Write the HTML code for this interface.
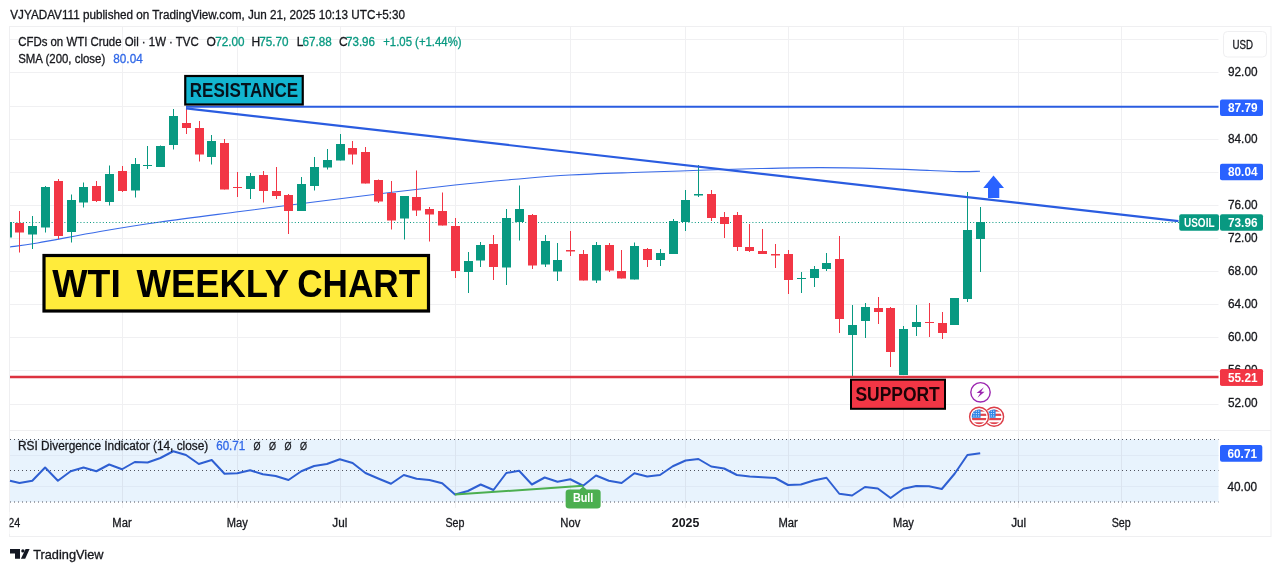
<!DOCTYPE html>
<html><head><meta charset="utf-8"><title>WTI Weekly Chart</title>
<style>
html,body{margin:0;padding:0;background:#fff;}
body{width:1281px;height:572px;overflow:hidden;font-family:'Liberation Sans', sans-serif;}
svg{display:block;font-family:'Liberation Sans', sans-serif;}
text{font-family:'Liberation Sans', sans-serif;}
</style></head><body>
<svg width="1281" height="572" viewBox="0 0 1281 572">
<rect x="0" y="0" width="1281" height="572" fill="#fff"/>
<line x1="10" y1="39.5" x2="1218.5" y2="39.5" stroke="#f0f0f2" stroke-width="1"/>
<line x1="10" y1="72.5" x2="1218.5" y2="72.5" stroke="#f0f0f2" stroke-width="1"/>
<line x1="10" y1="106.5" x2="1218.5" y2="106.5" stroke="#f0f0f2" stroke-width="1"/>
<line x1="10" y1="139.5" x2="1218.5" y2="139.5" stroke="#f0f0f2" stroke-width="1"/>
<line x1="10" y1="172.5" x2="1218.5" y2="172.5" stroke="#f0f0f2" stroke-width="1"/>
<line x1="10" y1="205.5" x2="1218.5" y2="205.5" stroke="#f0f0f2" stroke-width="1"/>
<line x1="10" y1="238.5" x2="1218.5" y2="238.5" stroke="#f0f0f2" stroke-width="1"/>
<line x1="10" y1="271.5" x2="1218.5" y2="271.5" stroke="#f0f0f2" stroke-width="1"/>
<line x1="10" y1="304.5" x2="1218.5" y2="304.5" stroke="#f0f0f2" stroke-width="1"/>
<line x1="10" y1="337.5" x2="1218.5" y2="337.5" stroke="#f0f0f2" stroke-width="1"/>
<line x1="10" y1="370.5" x2="1218.5" y2="370.5" stroke="#f0f0f2" stroke-width="1"/>
<line x1="10" y1="404.5" x2="1218.5" y2="404.5" stroke="#f0f0f2" stroke-width="1"/>
<line x1="122.5" y1="27" x2="122.5" y2="508" stroke="#f0f0f2" stroke-width="1"/>
<line x1="237.5" y1="27" x2="237.5" y2="508" stroke="#f0f0f2" stroke-width="1"/>
<line x1="340.5" y1="27" x2="340.5" y2="508" stroke="#f0f0f2" stroke-width="1"/>
<line x1="455.5" y1="27" x2="455.5" y2="508" stroke="#f0f0f2" stroke-width="1"/>
<line x1="570.5" y1="27" x2="570.5" y2="508" stroke="#f0f0f2" stroke-width="1"/>
<line x1="685.5" y1="27" x2="685.5" y2="508" stroke="#f0f0f2" stroke-width="1"/>
<line x1="788.5" y1="27" x2="788.5" y2="508" stroke="#f0f0f2" stroke-width="1"/>
<line x1="903.5" y1="27" x2="903.5" y2="508" stroke="#f0f0f2" stroke-width="1"/>
<line x1="1018.5" y1="27" x2="1018.5" y2="508" stroke="#f0f0f2" stroke-width="1"/>
<line x1="1121.5" y1="27" x2="1121.5" y2="508" stroke="#f0f0f2" stroke-width="1"/>
<rect x="10" y="439.5" width="1208.5" height="62.5" fill="#e8f3fd"/>
<line x1="10" y1="455.5" x2="1218.5" y2="455.5" stroke="#dfe9f5" stroke-width="1"/>
<line x1="10" y1="486.5" x2="1218.5" y2="486.5" stroke="#dfe9f5" stroke-width="1"/>
<line x1="122.5" y1="439.5" x2="122.5" y2="502" stroke="#dbe4ef" stroke-width="1"/>
<line x1="237.5" y1="439.5" x2="237.5" y2="502" stroke="#dbe4ef" stroke-width="1"/>
<line x1="340.5" y1="439.5" x2="340.5" y2="502" stroke="#dbe4ef" stroke-width="1"/>
<line x1="455.5" y1="439.5" x2="455.5" y2="502" stroke="#dbe4ef" stroke-width="1"/>
<line x1="570.5" y1="439.5" x2="570.5" y2="502" stroke="#dbe4ef" stroke-width="1"/>
<line x1="685.5" y1="439.5" x2="685.5" y2="502" stroke="#dbe4ef" stroke-width="1"/>
<line x1="788.5" y1="439.5" x2="788.5" y2="502" stroke="#dbe4ef" stroke-width="1"/>
<line x1="903.5" y1="439.5" x2="903.5" y2="502" stroke="#dbe4ef" stroke-width="1"/>
<line x1="1018.5" y1="439.5" x2="1018.5" y2="502" stroke="#dbe4ef" stroke-width="1"/>
<line x1="1121.5" y1="439.5" x2="1121.5" y2="502" stroke="#dbe4ef" stroke-width="1"/>
<line x1="10" y1="439.5" x2="1218.5" y2="439.5" stroke="#50535e" stroke-width="1" stroke-dasharray="1 3"/>
<line x1="10" y1="470.5" x2="1218.5" y2="470.5" stroke="#50535e" stroke-width="1" stroke-dasharray="1 3"/>
<line x1="10" y1="502" x2="1218.5" y2="502" stroke="#50535e" stroke-width="1" stroke-dasharray="1 3"/>
<line x1="10" y1="430.5" x2="1271" y2="430.5" stroke="#efeff1" stroke-width="1"/>
<rect x="9.5" y="26.5" width="1261.5" height="510" fill="none" stroke="#efeff1" stroke-width="1"/>
<path d="M10,247 C14.58,246.33 22.50,245.58 37.5,243 C52.50,240.42 79.58,235.00 100,231.5 C120.42,228.00 136.67,225.33 160,222 C183.33,218.67 213.33,214.96 240,211.5 C266.67,208.04 295.00,204.42 320,201.25 C345.00,198.08 367.50,195.21 390,192.5 C412.50,189.79 434.17,187.20 455,185 C475.83,182.80 495.83,180.97 515,179.3 C534.17,177.63 549.17,176.17 570,175 C590.83,173.83 618.33,173.08 640,172.3 C661.67,171.52 680.00,170.93 700,170.3 C720.00,169.67 740.00,168.95 760,168.5 C780.00,168.05 800.00,167.58 820,167.6 C840.00,167.62 861.67,168.12 880,168.6 C898.33,169.08 916.67,170.00 930,170.5 C943.33,171.00 951.67,171.47 960,171.6 C968.33,171.73 976.67,171.35 980,171.3" fill="none" stroke="#3a6be8" stroke-width="1.1"/>
<line x1="10" y1="222.5" x2="1179" y2="222.5" stroke="#089981" stroke-width="1" stroke-dasharray="1 2.2"/>
<rect x="10" y="222" width="2" height="15.5" fill="#089981"/>
<rect x="19" y="211.0" width="1" height="41.5" fill="#f23645"/>
<rect x="15" y="223.0" width="9" height="9.5" fill="#f23645"/>
<rect x="32" y="216.0" width="1" height="33.0" fill="#089981"/>
<rect x="28" y="226.0" width="9" height="8.5" fill="#089981"/>
<rect x="45" y="186.0" width="1" height="46.5" fill="#089981"/>
<rect x="41" y="187.0" width="9" height="40.5" fill="#089981"/>
<rect x="58" y="179.0" width="1" height="60.0" fill="#f23645"/>
<rect x="54" y="181.0" width="9" height="55.0" fill="#f23645"/>
<rect x="71" y="194.5" width="1" height="48.0" fill="#089981"/>
<rect x="67" y="200.0" width="9" height="32.0" fill="#089981"/>
<rect x="83" y="182.5" width="1" height="25.0" fill="#089981"/>
<rect x="79" y="187.0" width="9" height="15.5" fill="#089981"/>
<rect x="96" y="181.0" width="1" height="21.0" fill="#f23645"/>
<rect x="92" y="186.0" width="9" height="15.0" fill="#f23645"/>
<rect x="109" y="165.5" width="1" height="40.0" fill="#089981"/>
<rect x="105" y="174.0" width="9" height="28.0" fill="#089981"/>
<rect x="122" y="166.0" width="1" height="26.0" fill="#f23645"/>
<rect x="118" y="171.0" width="9" height="20.0" fill="#f23645"/>
<rect x="135" y="158.0" width="1" height="39.5" fill="#089981"/>
<rect x="131" y="164.0" width="9" height="26.5" fill="#089981"/>
<rect x="147" y="146.0" width="1" height="23.0" fill="#089981"/>
<rect x="143" y="165.0" width="9" height="1.0" fill="#089981"/>
<rect x="160" y="145.5" width="1" height="21.5" fill="#089981"/>
<rect x="156" y="146.0" width="9" height="21.0" fill="#089981"/>
<rect x="173" y="109.0" width="1" height="40.5" fill="#089981"/>
<rect x="169" y="116.0" width="9" height="29.0" fill="#089981"/>
<rect x="186" y="107.5" width="1" height="26.5" fill="#f23645"/>
<rect x="182" y="123.0" width="9" height="5.0" fill="#f23645"/>
<rect x="199" y="121.0" width="1" height="40.5" fill="#f23645"/>
<rect x="195" y="128.0" width="9" height="26.5" fill="#f23645"/>
<rect x="211" y="135.0" width="1" height="29.5" fill="#089981"/>
<rect x="207" y="141.0" width="9" height="16.0" fill="#089981"/>
<rect x="224" y="139.0" width="1" height="50.5" fill="#f23645"/>
<rect x="220" y="143.0" width="9" height="46.5" fill="#f23645"/>
<rect x="237" y="172.0" width="1" height="25.0" fill="#f23645"/>
<rect x="233" y="187.0" width="9" height="1.0" fill="#f23645"/>
<rect x="250" y="173.0" width="1" height="26.0" fill="#089981"/>
<rect x="246" y="176.0" width="9" height="13.0" fill="#089981"/>
<rect x="263" y="171.0" width="1" height="31.5" fill="#f23645"/>
<rect x="259" y="175.0" width="9" height="16.0" fill="#f23645"/>
<rect x="276" y="167.0" width="1" height="32.0" fill="#f23645"/>
<rect x="272" y="191.0" width="9" height="5.0" fill="#f23645"/>
<rect x="288" y="194.0" width="1" height="40.0" fill="#f23645"/>
<rect x="284" y="195.0" width="9" height="16.0" fill="#f23645"/>
<rect x="301" y="177.0" width="1" height="34.0" fill="#089981"/>
<rect x="297" y="184.0" width="9" height="27.0" fill="#089981"/>
<rect x="314" y="157.0" width="1" height="33.5" fill="#089981"/>
<rect x="310" y="167.0" width="9" height="19.0" fill="#089981"/>
<rect x="327" y="149.0" width="1" height="20.5" fill="#089981"/>
<rect x="323" y="160.0" width="9" height="7.5" fill="#089981"/>
<rect x="340" y="134.0" width="1" height="26.5" fill="#089981"/>
<rect x="336" y="144.0" width="9" height="16.5" fill="#089981"/>
<rect x="352" y="141.0" width="1" height="23.5" fill="#f23645"/>
<rect x="348" y="148.0" width="9" height="6.5" fill="#f23645"/>
<rect x="365" y="147.0" width="1" height="36.5" fill="#f23645"/>
<rect x="361" y="152.0" width="9" height="31.5" fill="#f23645"/>
<rect x="378" y="179.5" width="1" height="23.5" fill="#f23645"/>
<rect x="374" y="180.0" width="9" height="21.5" fill="#f23645"/>
<rect x="391" y="181.0" width="1" height="48.5" fill="#f23645"/>
<rect x="387" y="193.0" width="9" height="27.5" fill="#f23645"/>
<rect x="404" y="196.0" width="1" height="43.5" fill="#089981"/>
<rect x="400" y="196.0" width="9" height="22.5" fill="#089981"/>
<rect x="416" y="170.5" width="1" height="45.5" fill="#f23645"/>
<rect x="412" y="197.0" width="9" height="13.5" fill="#f23645"/>
<rect x="429" y="207.0" width="1" height="34.5" fill="#f23645"/>
<rect x="425" y="209.0" width="9" height="5.5" fill="#f23645"/>
<rect x="442" y="192.5" width="1" height="33.0" fill="#f23645"/>
<rect x="438" y="211.0" width="9" height="14.5" fill="#f23645"/>
<rect x="455" y="218.0" width="1" height="60.0" fill="#f23645"/>
<rect x="451" y="226.0" width="9" height="45.0" fill="#f23645"/>
<rect x="468" y="252.0" width="1" height="41.0" fill="#089981"/>
<rect x="464" y="261.0" width="9" height="11.0" fill="#089981"/>
<rect x="480" y="242.0" width="1" height="25.0" fill="#089981"/>
<rect x="476" y="245.0" width="9" height="15.5" fill="#089981"/>
<rect x="493" y="235.0" width="1" height="45.0" fill="#f23645"/>
<rect x="489" y="244.0" width="9" height="23.0" fill="#f23645"/>
<rect x="506" y="209.0" width="1" height="76.0" fill="#089981"/>
<rect x="502" y="218.0" width="9" height="49.5" fill="#089981"/>
<rect x="519" y="185.5" width="1" height="55.0" fill="#089981"/>
<rect x="515" y="209.0" width="9" height="13.0" fill="#089981"/>
<rect x="532" y="214.0" width="1" height="55.0" fill="#f23645"/>
<rect x="528" y="215.0" width="9" height="50.5" fill="#f23645"/>
<rect x="545" y="235.0" width="1" height="32.0" fill="#089981"/>
<rect x="541" y="241.0" width="9" height="23.5" fill="#089981"/>
<rect x="557" y="243.0" width="1" height="38.0" fill="#089981"/>
<rect x="553" y="260.0" width="9" height="11.5" fill="#089981"/>
<rect x="570" y="231.0" width="1" height="25.0" fill="#f23645"/>
<rect x="566" y="250.0" width="9" height="1.5" fill="#f23645"/>
<rect x="583" y="250.0" width="1" height="30.5" fill="#f23645"/>
<rect x="579" y="254.0" width="9" height="26.5" fill="#f23645"/>
<rect x="596" y="242.0" width="1" height="41.0" fill="#089981"/>
<rect x="592" y="245.0" width="9" height="35.5" fill="#089981"/>
<rect x="609" y="243.0" width="1" height="29.0" fill="#f23645"/>
<rect x="605" y="245.0" width="9" height="25.5" fill="#f23645"/>
<rect x="621" y="250.0" width="1" height="28.5" fill="#f23645"/>
<rect x="617" y="271.0" width="9" height="7.5" fill="#f23645"/>
<rect x="634" y="242.5" width="1" height="37.0" fill="#089981"/>
<rect x="630" y="246.0" width="9" height="33.5" fill="#089981"/>
<rect x="647" y="248.0" width="1" height="19.0" fill="#f23645"/>
<rect x="643" y="249.0" width="9" height="11.0" fill="#f23645"/>
<rect x="660" y="249.0" width="1" height="17.0" fill="#089981"/>
<rect x="656" y="253.0" width="9" height="7.0" fill="#089981"/>
<rect x="673" y="219.0" width="1" height="35.0" fill="#089981"/>
<rect x="669" y="221.0" width="9" height="33.0" fill="#089981"/>
<rect x="685" y="190.0" width="1" height="41.0" fill="#089981"/>
<rect x="681" y="200.0" width="9" height="22.0" fill="#089981"/>
<rect x="698" y="165.0" width="1" height="32.0" fill="#089981"/>
<rect x="694" y="194.0" width="9" height="1.5" fill="#089981"/>
<rect x="711" y="190.0" width="1" height="31.0" fill="#f23645"/>
<rect x="707" y="194.0" width="9" height="24.0" fill="#f23645"/>
<rect x="724" y="212.0" width="1" height="26.0" fill="#f23645"/>
<rect x="720" y="217.0" width="9" height="7.0" fill="#f23645"/>
<rect x="737" y="212.0" width="1" height="39.0" fill="#f23645"/>
<rect x="733" y="215.0" width="9" height="32.0" fill="#f23645"/>
<rect x="749" y="224.0" width="1" height="28.0" fill="#f23645"/>
<rect x="745" y="247.0" width="9" height="4.0" fill="#f23645"/>
<rect x="762" y="229.0" width="1" height="25.0" fill="#f23645"/>
<rect x="758" y="251.0" width="9" height="3.0" fill="#f23645"/>
<rect x="775" y="244.0" width="1" height="24.0" fill="#f23645"/>
<rect x="771" y="254.0" width="9" height="1.5" fill="#f23645"/>
<rect x="788" y="250.0" width="1" height="44.0" fill="#f23645"/>
<rect x="784" y="254.0" width="9" height="26.0" fill="#f23645"/>
<rect x="801" y="272.0" width="1" height="21.0" fill="#089981"/>
<rect x="797" y="278.0" width="9" height="1.0" fill="#089981"/>
<rect x="814" y="266.0" width="1" height="21.0" fill="#089981"/>
<rect x="810" y="269.0" width="9" height="9.0" fill="#089981"/>
<rect x="826" y="253.0" width="1" height="18.0" fill="#089981"/>
<rect x="822" y="263.0" width="9" height="6.0" fill="#089981"/>
<rect x="839" y="236.0" width="1" height="97.0" fill="#f23645"/>
<rect x="835" y="259.0" width="9" height="60.0" fill="#f23645"/>
<rect x="852" y="305.0" width="1" height="71.0" fill="#089981"/>
<rect x="848" y="325.0" width="9" height="10.0" fill="#089981"/>
<rect x="865" y="303.0" width="1" height="35.0" fill="#089981"/>
<rect x="861" y="307.0" width="9" height="14.0" fill="#089981"/>
<rect x="878" y="297.0" width="1" height="27.0" fill="#f23645"/>
<rect x="874" y="308.0" width="9" height="4.0" fill="#f23645"/>
<rect x="890" y="307.0" width="1" height="60.0" fill="#f23645"/>
<rect x="886" y="308.0" width="9" height="44.0" fill="#f23645"/>
<rect x="903" y="326.0" width="1" height="49.0" fill="#089981"/>
<rect x="899" y="329.0" width="9" height="46.0" fill="#089981"/>
<rect x="916" y="305.0" width="1" height="31.0" fill="#089981"/>
<rect x="912" y="322.0" width="9" height="5.0" fill="#089981"/>
<rect x="929" y="303.0" width="1" height="34.0" fill="#f23645"/>
<rect x="925" y="322.0" width="9" height="1.0" fill="#f23645"/>
<rect x="942" y="312.0" width="1" height="27.0" fill="#f23645"/>
<rect x="938" y="323.0" width="9" height="10.0" fill="#f23645"/>
<rect x="954" y="298.0" width="1" height="27.0" fill="#089981"/>
<rect x="950" y="298.0" width="9" height="27.0" fill="#089981"/>
<rect x="967" y="192.0" width="1" height="110.0" fill="#089981"/>
<rect x="963" y="230.0" width="9" height="69.0" fill="#089981"/>
<rect x="980" y="207.0" width="1" height="65.0" fill="#089981"/>
<rect x="976" y="222.0" width="9" height="17.0" fill="#089981"/>
<line x1="186" y1="106.8" x2="1218.5" y2="106.8" stroke="#2a5ce0" stroke-width="2"/>
<line x1="186" y1="108.4" x2="1178.5" y2="221.2" stroke="#2a5ce0" stroke-width="2.2"/>
<line x1="10" y1="377" x2="1218.5" y2="377" stroke="#dc3340" stroke-width="2.4"/>
<path d="M993.5,175.5 L1004,188 L999.3,188 L999.3,198 L988,198 L988,188 L983.2,188 Z" fill="#2962ff"/>
<polyline points="10,480.75 19.5,483 32.3,480.75 45.1,467.5 57.9,480.75 70.7,471.25 83.5,467.5 96.4,471.25 109.2,464.5 122.0,469.25 134.8,462 147.6,462.5 160.4,458 173.2,451.25 186.0,455 198.8,464 211.7,460 224.5,473.75 237.3,473.25 250.1,470.25 262.9,474.25 275.7,476 288.5,480 301.3,471.25 314.1,466 326.9,464 339.8,459.25 352.6,463 365.4,473 378.2,478.5 391.0,483.75 403.8,475 416.6,478.75 429.4,480 442.2,483.25 455.0,494.5 467.9,491 480.7,484.5 493.5,490 506.3,473 519.1,470.75 531.9,484.5 544.7,477.5 557.5,481.75 570.3,479.25 583.1,485.75 596.0,475.5 608.8,480.75 621.6,483 634.4,473.25 647.2,476.5 660.0,475 672.8,466.25 685.6,460.5 698.4,459 711.2,466.5 724.1,468.5 736.9,475 749.7,476.5 762.5,477.25 775.3,478 788.1,485 800.9,484.5 813.7,480.5 826.5,477.75 839.3,493.75 852.1,495.5 865.0,487 877.8,488.5 890.6,498 903.4,488.75 916.2,486 929.0,486.25 941.8,489 954.6,473.75 967.4,455 980.2,453.25" fill="none" stroke="#2e5fd2" stroke-width="2" stroke-linejoin="round"/>
<line x1="455.0" y1="494.5" x2="583.1" y2="485.75" stroke="#4caf50" stroke-width="2"/>
<path d="M583.14,486.5 L586.64,489.5 L597.14,489.5 Q600.64,489.5 600.64,492.5 L600.64,505.5 Q600.64,508.5 597.14,508.5 L569.14,508.5 Q565.64,508.5 565.64,505.5 L565.64,492.5 Q565.64,489.5 569.14,489.5 L579.64,489.5 Z" fill="#4caf50"/>
<rect x="185.25" y="76" width="117.5" height="28.5" fill="#12b5d0" stroke="#000" stroke-width="2.2"/>
<rect x="44" y="255.5" width="384.5" height="55.5" fill="#ffeb3b" stroke="#000" stroke-width="3.2"/>
<rect x="851" y="379.7" width="94" height="29.1" fill="#f23645" stroke="#000" stroke-width="2"/>
<rect x="1220" y="99.5" width="43" height="16.5" rx="2" fill="#2962ff"/>
<rect x="1220" y="163.7" width="43" height="16.5" rx="2" fill="#2962ff"/>
<rect x="1220" y="214.2" width="43" height="16.5" rx="2" fill="#089981"/>
<rect x="1179.2" y="214.2" width="39.8" height="16.5" rx="2" fill="#089981"/>
<rect x="1220" y="369.2" width="43" height="16.5" rx="2" fill="#f23645"/>
<rect x="1220" y="445" width="42.3" height="16.7" rx="2" fill="#2962ff"/>
<rect x="1223.5" y="31.5" width="43" height="25.5" rx="4" fill="#fff" stroke="#efeff1" stroke-width="1"/>
<circle cx="980.5" cy="392.3" r="9.7" fill="#fff" stroke="#9c27b0" stroke-width="1.4"/>
<path d="M983.9,387.2 L976.6,392.9 L980.3,392.9 L977.5,397.8 L984.6,391.7 L981.1,391.7 Z" fill="#9c27b0"/>
<circle cx="994.1" cy="416.8" r="10.6" fill="#fff"/>
<circle cx="994.1" cy="416.8" r="9.5" fill="#fff" stroke="#dc3c46" stroke-width="1.4"/>
<clipPath id="f2"><circle cx="994.1" cy="416.8" r="7.4"/></clipPath>
<g clip-path="url(#f2)">
<rect x="986.1" y="408.8" width="16" height="16" fill="#fff"/>
<rect x="986.1" y="409.40" width="16" height="2.2" fill="#e0454f"/>
<rect x="986.1" y="413.70" width="16" height="2.2" fill="#e0454f"/>
<rect x="986.1" y="418.00" width="16" height="2.2" fill="#e0454f"/>
<rect x="986.1" y="422.30" width="16" height="2.2" fill="#e0454f"/>
<rect x="986.1" y="408.8" width="9.5" height="9" fill="#2f86e8"/>
<rect x="988.40" y="410.70" width="1" height="1" fill="#fff"/>
<rect x="990.80" y="410.70" width="1" height="1" fill="#fff"/>
<rect x="993.20" y="410.70" width="1" height="1" fill="#fff"/>
<rect x="988.40" y="413.10" width="1" height="1" fill="#fff"/>
<rect x="990.80" y="413.10" width="1" height="1" fill="#fff"/>
<rect x="993.20" y="413.10" width="1" height="1" fill="#fff"/>
<rect x="988.40" y="415.50" width="1" height="1" fill="#fff"/>
<rect x="990.80" y="415.50" width="1" height="1" fill="#fff"/>
<rect x="993.20" y="415.50" width="1" height="1" fill="#fff"/>
</g>
<circle cx="979.1" cy="416.8" r="10.6" fill="#fff"/>
<circle cx="979.1" cy="416.8" r="9.5" fill="#fff" stroke="#dc3c46" stroke-width="1.4"/>
<clipPath id="f1"><circle cx="979.1" cy="416.8" r="7.4"/></clipPath>
<g clip-path="url(#f1)">
<rect x="971.1" y="408.8" width="16" height="16" fill="#fff"/>
<rect x="971.1" y="409.40" width="16" height="2.2" fill="#e0454f"/>
<rect x="971.1" y="413.70" width="16" height="2.2" fill="#e0454f"/>
<rect x="971.1" y="418.00" width="16" height="2.2" fill="#e0454f"/>
<rect x="971.1" y="422.30" width="16" height="2.2" fill="#e0454f"/>
<rect x="971.1" y="408.8" width="9.5" height="9" fill="#2f86e8"/>
<rect x="973.40" y="410.70" width="1" height="1" fill="#fff"/>
<rect x="975.80" y="410.70" width="1" height="1" fill="#fff"/>
<rect x="978.20" y="410.70" width="1" height="1" fill="#fff"/>
<rect x="973.40" y="413.10" width="1" height="1" fill="#fff"/>
<rect x="975.80" y="413.10" width="1" height="1" fill="#fff"/>
<rect x="978.20" y="413.10" width="1" height="1" fill="#fff"/>
<rect x="973.40" y="415.50" width="1" height="1" fill="#fff"/>
<rect x="975.80" y="415.50" width="1" height="1" fill="#fff"/>
<rect x="978.20" y="415.50" width="1" height="1" fill="#fff"/>
</g>
<path d="M10,549 H20 V558.8 H15 V553.6 H10 Z" fill="#131722"/>
<circle cx="22.9" cy="550.9" r="1.7" fill="#131722"/>
<path d="M25.6,549 H29.6 L25.2,558.8 H20.9 Z" fill="#131722"/>
<text x="10.3" y="18.7" font-size="12" fill="#17181d" font-weight="normal" text-anchor="start" stroke="#17181d" stroke-width="0.3" textLength="394.7" lengthAdjust="spacingAndGlyphs" >VJYADAV111 published on TradingView.com, Jun 21, 2025 10:13 UTC+5:30</text>
<text x="18.2" y="45.9" font-size="12" fill="#17181d" font-weight="normal" text-anchor="start" stroke="#17181d" stroke-width="0.3" textLength="180.5" lengthAdjust="spacingAndGlyphs" >CFDs on WTI Crude Oil · 1W · TVC</text>
<text x="206.5" y="45.9" font-size="12" fill="#17181d" font-weight="normal" text-anchor="start" stroke="#17181d" stroke-width="0.3" >O</text>
<text x="215.3" y="45.9" font-size="12" fill="#089981" font-weight="normal" text-anchor="start" stroke="#089981" stroke-width="0.3" textLength="29.2" lengthAdjust="spacingAndGlyphs" >72.00</text>
<text x="251.4" y="45.9" font-size="12" fill="#17181d" font-weight="normal" text-anchor="start" stroke="#17181d" stroke-width="0.3" >H</text>
<text x="259.3" y="45.9" font-size="12" fill="#089981" font-weight="normal" text-anchor="start" stroke="#089981" stroke-width="0.3" textLength="29.2" lengthAdjust="spacingAndGlyphs" >75.70</text>
<text x="296.8" y="45.9" font-size="12" fill="#17181d" font-weight="normal" text-anchor="start" stroke="#17181d" stroke-width="0.3" >L</text>
<text x="302.5" y="45.9" font-size="12" fill="#089981" font-weight="normal" text-anchor="start" stroke="#089981" stroke-width="0.3" textLength="29.2" lengthAdjust="spacingAndGlyphs" >67.88</text>
<text x="339" y="45.9" font-size="12" fill="#17181d" font-weight="normal" text-anchor="start" stroke="#17181d" stroke-width="0.3" >C</text>
<text x="346" y="45.9" font-size="12" fill="#089981" font-weight="normal" text-anchor="start" stroke="#089981" stroke-width="0.3" textLength="29" lengthAdjust="spacingAndGlyphs" >73.96</text>
<text x="383.2" y="45.9" font-size="12" fill="#089981" font-weight="normal" text-anchor="start" stroke="#089981" stroke-width="0.3" textLength="78.4" lengthAdjust="spacingAndGlyphs" >+1.05 (+1.44%)</text>
<text x="18.2" y="62.8" font-size="12" fill="#17181d" font-weight="normal" text-anchor="start" stroke="#17181d" stroke-width="0.3" textLength="87" lengthAdjust="spacingAndGlyphs" >SMA (200, close)</text>
<text x="113.3" y="62.8" font-size="12" fill="#3068e8" font-weight="normal" text-anchor="start" stroke="#3068e8" stroke-width="0.3" textLength="29.4" lengthAdjust="spacingAndGlyphs" >80.04</text>
<text x="18" y="450.2" font-size="12" fill="#17181d" font-weight="normal" text-anchor="start" stroke="#17181d" stroke-width="0.3" textLength="190.3" lengthAdjust="spacingAndGlyphs" >RSI Divergence Indicator (14, close)</text>
<text x="216.2" y="450.2" font-size="12" fill="#3068e8" font-weight="normal" text-anchor="start" stroke="#3068e8" stroke-width="0.3" textLength="29" lengthAdjust="spacingAndGlyphs" >60.71</text>
<text x="253.4" y="450.2" font-size="11.5" fill="#17181d" font-weight="normal" text-anchor="start" stroke="#17181d" stroke-width="0.3" textLength="7" lengthAdjust="spacingAndGlyphs" >Ø</text>
<text x="269.1" y="450.2" font-size="11.5" fill="#17181d" font-weight="normal" text-anchor="start" stroke="#17181d" stroke-width="0.3" textLength="7" lengthAdjust="spacingAndGlyphs" >Ø</text>
<text x="284.6" y="450.2" font-size="11.5" fill="#17181d" font-weight="normal" text-anchor="start" stroke="#17181d" stroke-width="0.3" textLength="7" lengthAdjust="spacingAndGlyphs" >Ø</text>
<text x="299.9" y="450.2" font-size="11.5" fill="#17181d" font-weight="normal" text-anchor="start" stroke="#17181d" stroke-width="0.3" textLength="7" lengthAdjust="spacingAndGlyphs" >Ø</text>
<text x="1228" y="76.4" font-size="12" fill="#17181d" font-weight="normal" text-anchor="start" stroke="#17181d" stroke-width="0.3" textLength="29.5" lengthAdjust="spacingAndGlyphs" >92.00</text>
<text x="1228" y="142.6" font-size="12" fill="#17181d" font-weight="normal" text-anchor="start" stroke="#17181d" stroke-width="0.3" textLength="29.5" lengthAdjust="spacingAndGlyphs" >84.00</text>
<text x="1228" y="208.8" font-size="12" fill="#17181d" font-weight="normal" text-anchor="start" stroke="#17181d" stroke-width="0.3" textLength="29.5" lengthAdjust="spacingAndGlyphs" >76.00</text>
<text x="1228" y="241.9" font-size="12" fill="#17181d" font-weight="normal" text-anchor="start" stroke="#17181d" stroke-width="0.3" textLength="29.5" lengthAdjust="spacingAndGlyphs" >72.00</text>
<text x="1228" y="275.0" font-size="12" fill="#17181d" font-weight="normal" text-anchor="start" stroke="#17181d" stroke-width="0.3" textLength="29.5" lengthAdjust="spacingAndGlyphs" >68.00</text>
<text x="1228" y="308.1" font-size="12" fill="#17181d" font-weight="normal" text-anchor="start" stroke="#17181d" stroke-width="0.3" textLength="29.5" lengthAdjust="spacingAndGlyphs" >64.00</text>
<text x="1228" y="341.2" font-size="12" fill="#17181d" font-weight="normal" text-anchor="start" stroke="#17181d" stroke-width="0.3" textLength="29.5" lengthAdjust="spacingAndGlyphs" >60.00</text>
<text x="1228" y="374.3" font-size="12" fill="#17181d" font-weight="normal" text-anchor="start" stroke="#17181d" stroke-width="0.3" textLength="29.5" lengthAdjust="spacingAndGlyphs" >56.00</text>
<text x="1228" y="407.4" font-size="12" fill="#17181d" font-weight="normal" text-anchor="start" stroke="#17181d" stroke-width="0.3" textLength="29.5" lengthAdjust="spacingAndGlyphs" >52.00</text>
<rect x="1220" y="369.2" width="43" height="16.5" rx="2" fill="#f23645"/>
<text x="1228" y="111.9" font-size="12" fill="#fff" font-weight="bold" text-anchor="start" textLength="29.5" lengthAdjust="spacingAndGlyphs" >87.79</text>
<text x="1228" y="176.1" font-size="12" fill="#fff" font-weight="bold" text-anchor="start" textLength="29.5" lengthAdjust="spacingAndGlyphs" >80.04</text>
<text x="1228" y="226.6" font-size="12" fill="#fff" font-weight="bold" text-anchor="start" textLength="29.5" lengthAdjust="spacingAndGlyphs" >73.96</text>
<text x="1184" y="226.6" font-size="12" fill="#fff" font-weight="bold" text-anchor="start" textLength="30.5" lengthAdjust="spacingAndGlyphs" >USOIL</text>
<text x="1228" y="381.6" font-size="12" fill="#fff" font-weight="bold" text-anchor="start" textLength="29.5" lengthAdjust="spacingAndGlyphs" >55.21</text>
<text x="1227.5" y="457.6" font-size="12" fill="#fff" font-weight="bold" text-anchor="start" textLength="29.5" lengthAdjust="spacingAndGlyphs" >60.71</text>
<text x="1227.5" y="491" font-size="12" fill="#17181d" font-weight="normal" text-anchor="start" stroke="#17181d" stroke-width="0.3" textLength="29.5" lengthAdjust="spacingAndGlyphs" >40.00</text>
<text x="1242.7" y="48.6" font-size="12" fill="#17181d" font-weight="normal" text-anchor="middle" stroke="#17181d" stroke-width="0.3" textLength="20.5" lengthAdjust="spacingAndGlyphs" >USD</text>
<text x="122.0" y="527" font-size="12" fill="#17181d" font-weight="normal" text-anchor="middle" stroke="#17181d" stroke-width="0.3" textLength="19.3" lengthAdjust="spacingAndGlyphs" >Mar</text>
<text x="237.3" y="527" font-size="12" fill="#17181d" font-weight="normal" text-anchor="middle" stroke="#17181d" stroke-width="0.3" textLength="21" lengthAdjust="spacingAndGlyphs" >May</text>
<text x="339.8" y="527" font-size="12" fill="#17181d" font-weight="normal" text-anchor="middle" stroke="#17181d" stroke-width="0.3" textLength="15" lengthAdjust="spacingAndGlyphs" >Jul</text>
<text x="455.0" y="527" font-size="12" fill="#17181d" font-weight="normal" text-anchor="middle" stroke="#17181d" stroke-width="0.3" textLength="19" lengthAdjust="spacingAndGlyphs" >Sep</text>
<text x="570.3" y="527" font-size="12" fill="#17181d" font-weight="normal" text-anchor="middle" stroke="#17181d" stroke-width="0.3" textLength="20" lengthAdjust="spacingAndGlyphs" >Nov</text>
<text x="788.1" y="527" font-size="12" fill="#17181d" font-weight="normal" text-anchor="middle" stroke="#17181d" stroke-width="0.3" textLength="19.3" lengthAdjust="spacingAndGlyphs" >Mar</text>
<text x="903.4" y="527" font-size="12" fill="#17181d" font-weight="normal" text-anchor="middle" stroke="#17181d" stroke-width="0.3" textLength="21" lengthAdjust="spacingAndGlyphs" >May</text>
<text x="1018.7" y="527" font-size="12" fill="#17181d" font-weight="normal" text-anchor="middle" stroke="#17181d" stroke-width="0.3" textLength="15" lengthAdjust="spacingAndGlyphs" >Jul</text>
<text x="1121.2" y="527" font-size="12" fill="#17181d" font-weight="normal" text-anchor="middle" stroke="#17181d" stroke-width="0.3" textLength="19" lengthAdjust="spacingAndGlyphs" >Sep</text>
<text x="685.6" y="527" font-size="12" fill="#17181d" font-weight="bold" text-anchor="middle" textLength="27.5" lengthAdjust="spacingAndGlyphs" >2025</text>
<text x="8.2" y="527" font-size="12" fill="#17181d" font-weight="normal" text-anchor="start" stroke="#17181d" stroke-width="0.3" textLength="12" lengthAdjust="spacingAndGlyphs" >24</text>
<rect x="0" y="512" width="9.5" height="22" fill="#fff"/>
<text x="189.8" y="97" font-size="19.8" fill="#06121c" font-weight="bold" text-anchor="start" textLength="108.3" lengthAdjust="spacingAndGlyphs" >RESISTANCE</text>
<text x="52.3" y="296.6" font-size="39.5" fill="#000" font-weight="bold" text-anchor="start" textLength="68.5" lengthAdjust="spacingAndGlyphs" >WTI</text>
<text x="136.5" y="296.6" font-size="39.5" fill="#000" font-weight="bold" text-anchor="start" textLength="152.5" lengthAdjust="spacingAndGlyphs" >WEEKLY</text>
<text x="297.2" y="296.6" font-size="39.5" fill="#000" font-weight="bold" text-anchor="start" textLength="123" lengthAdjust="spacingAndGlyphs" >CHART</text>
<text x="855.4" y="400.8" font-size="19.8" fill="#1c0306" font-weight="bold" text-anchor="start" textLength="84.4" lengthAdjust="spacingAndGlyphs" >SUPPORT</text>
<text x="583.14" y="502.2" font-size="12" fill="#fff" font-weight="bold" text-anchor="middle" textLength="20.5" lengthAdjust="spacingAndGlyphs" >Bull</text>
<text x="33.2" y="558.5" font-size="12.2" fill="#17181d" font-weight="normal" text-anchor="start" stroke="#17181d" stroke-width="0.3" textLength="70.3" lengthAdjust="spacingAndGlyphs" >TradingView</text>
</svg>
</body></html>
